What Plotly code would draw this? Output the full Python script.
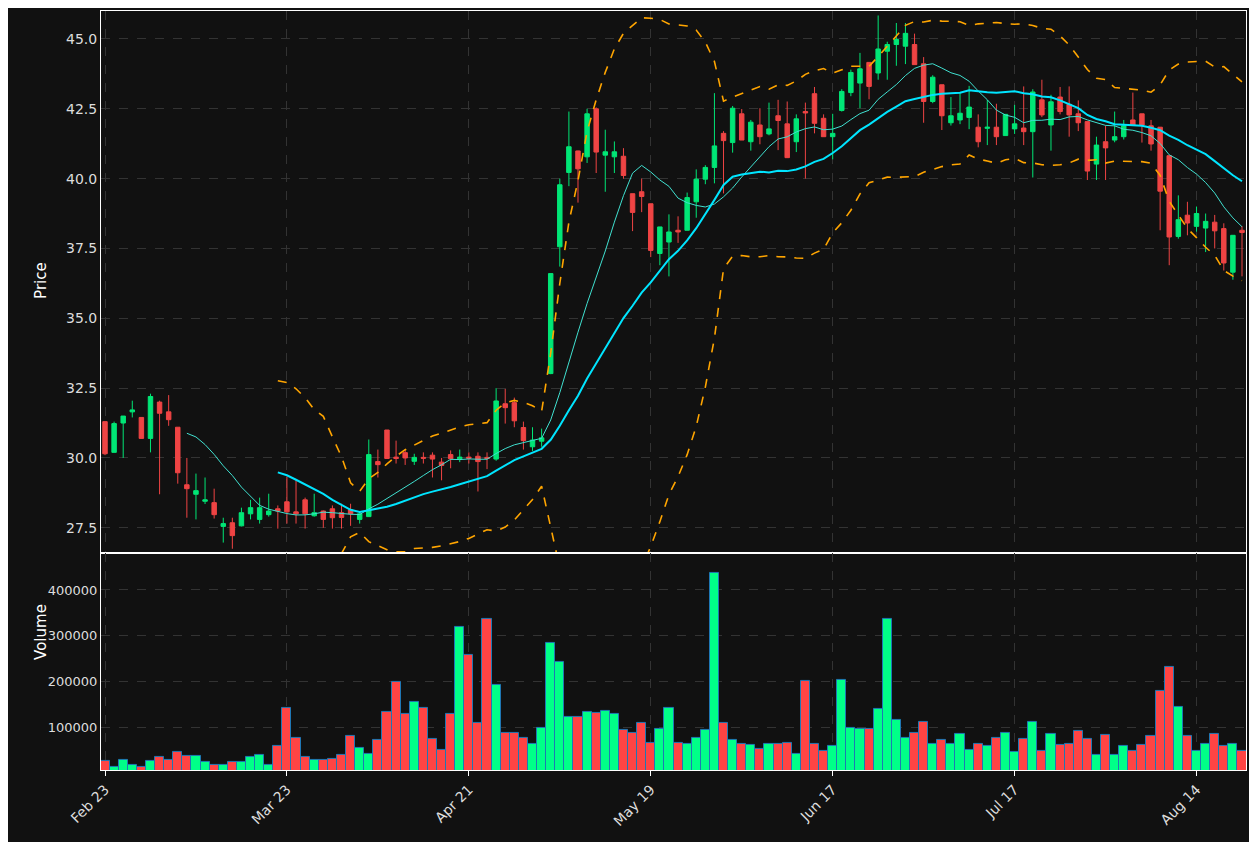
import plotly.graph_objects as go
from plotly.subplots import make_subplots
import pandas as pd

# OHLC, one entry per trading day (index 0..125)
opens = [31.3, 30.2, 31.25, 31.65, 31.45, 30.7, 32.0, 31.65, 31.1, 29.04,
         28.7, 28.45, 28.4, 27.55, 27.68, 27.57, 28.0, 27.8, 27.97, 28.18,
         28.43, 28.07, 28.5, 27.93, 28.1, 28.18, 28.04, 28.14, 27.8, 27.9,
         29.87, 31.0, 30.03, 30.19, 29.88, 30.02, 30.1, 29.85, 30.12, 29.97,
         30.03, 30.06, 30.02, 29.96, 31.94, 31.98, 31.09, 30.4, 30.6, 33.02,
         37.56, 40.22, 40.99, 40.78, 42.5, 40.84, 40.78, 40.8, 39.46, 39.53,
         39.1, 37.32, 37.73, 38.15, 38.15, 39.17, 39.98, 40.4, 41.62, 41.29,
         42.32, 41.32, 41.92, 41.6, 42.25, 41.96, 41.32, 42.4, 43.04, 42.16,
         41.5, 42.44, 43.08, 43.42, 44.16, 43.78, 44.56, 44.8, 44.74, 44.8,
         44.11, 42.76, 43.36, 42.0, 42.1, 42.19, 41.84, 41.8, 41.84, 41.54,
         41.78, 41.81, 41.68, 42.82, 41.92, 42.92, 42.66, 42.32, 42.04, 40.52,
         41.32, 41.38, 41.5, 42.1, 42.32, 41.89, 41.84, 40.82, 37.93, 38.69,
         38.29, 38.23, 38.44, 38.21, 36.65, 38.15]
highs = [31.3, 31.3, 31.5, 32.05, 31.45, 32.3, 32.05, 32.25, 31.1, 30.0,
         29.44, 29.3, 28.9, 27.86, 27.86, 28.22, 28.5, 28.58, 28.72, 28.3,
         29.33, 29.2, 28.58, 28.72, 28.12, 28.3, 28.36, 28.36, 28.1, 30.66,
         30.3, 31.0, 30.62, 30.3, 30.15, 30.2, 30.2, 30.0, 30.27, 30.3,
         30.2, 30.2, 30.2, 32.5, 32.47, 32.16, 31.3, 31.1, 31.05, 36.6,
         40.0, 42.4, 41.0, 42.5, 42.55, 41.75, 41.33, 41.09, 39.46, 40.0,
         39.1, 38.27, 38.72, 38.65, 39.5, 40.33, 40.48, 43.06, 41.7, 42.6,
         42.49, 42.1, 42.52, 42.72, 42.82, 42.76, 42.3, 42.72, 43.28, 42.3,
         42.32, 43.2, 43.9, 44.5, 44.16, 45.84, 44.9, 45.57, 45.57, 45.19,
         44.35, 43.7, 43.36, 42.92, 43.06, 43.32, 42.3, 42.82, 42.68, 42.3,
         42.64, 43.3, 43.2, 43.54, 43.0, 43.28, 43.3, 42.8, 42.04, 41.5,
         41.9, 42.4, 42.1, 43.08, 42.32, 42.1, 41.84, 40.82, 39.4, 39.17,
         39.0, 38.75, 38.7, 38.4, 37.97, 38.3]
lows = [30.1, 30.2, 30.0, 31.45, 30.7, 30.2, 28.7, 31.15, 29.08, 27.86,
        27.8, 28.35, 27.83, 26.97, 26.75, 27.55, 27.8, 27.65, 27.9, 27.47,
        27.65, 27.65, 27.47, 27.9, 27.5, 27.47, 27.47, 27.57, 27.65, 27.9,
        29.3, 29.98, 29.8, 29.75, 29.75, 29.8, 29.3, 29.2, 29.63, 29.85,
        29.8, 28.8, 29.6, 29.9, 31.23, 31.1, 30.3, 30.25, 30.4, 33.0,
        36.85, 39.73, 39.14, 40.56, 40.2, 39.53, 40.2, 40.0, 38.12, 38.8,
        37.19, 36.9, 36.5, 37.7, 38.15, 38.6, 39.8, 39.83, 39.47, 40.93,
        41.38, 41.0, 41.23, 41.55, 41.02, 40.75, 40.95, 40.0, 41.62, 41.5,
        40.69, 42.4, 42.95, 42.52, 42.84, 43.54, 43.54, 44.04, 44.1, 44.08,
        42.0, 42.7, 41.74, 41.9, 41.95, 41.77, 41.12, 41.2, 41.2, 41.54,
        41.6, 41.2, 40.04, 42.2, 41.0, 42.3, 41.5, 41.7, 39.95, 39.95,
        39.95, 41.3, 41.4, 41.9, 41.29, 41.0, 38.15, 36.9, 37.85, 37.97,
        38.1, 37.37, 37.5, 36.71, 36.38, 36.5]
closes = [30.15, 31.23, 31.5, 31.72, 30.7, 32.2, 31.6, 31.37, 29.47, 28.9,
          28.83, 28.5, 27.97, 27.65, 27.22, 28.04, 28.22, 28.22, 28.1, 28.1,
          28.07, 28.0, 28.0, 28.04, 27.8, 27.86, 27.87, 28.0, 28.0, 30.12,
          29.76, 29.98, 29.98, 30.0, 30.02, 29.99, 29.96, 29.73, 29.97, 30.03,
          29.99, 29.87, 29.98, 32.04, 31.8, 31.33, 30.62, 30.64, 30.72, 36.6,
          39.78, 41.14, 40.35, 42.32, 40.95, 40.96, 40.96, 40.11, 38.79, 39.36,
          37.43, 38.27, 38.09, 38.09, 39.32, 39.98, 40.4, 41.17, 41.36, 42.52,
          41.38, 42.02, 41.5, 41.78, 42.08, 40.75, 42.14, 42.35, 41.98, 41.5,
          41.62, 43.12, 43.8, 43.93, 43.3, 44.64, 44.8, 44.98, 45.2, 44.08,
          42.76, 43.63, 42.25, 42.25, 42.34, 42.56, 41.32, 41.84, 41.5, 42.3,
          41.96, 41.68, 43.1, 42.28, 42.75, 42.4, 42.28, 42.0, 40.27, 41.2,
          41.1, 41.5, 41.89, 41.92, 41.92, 41.24, 39.55, 37.91, 38.53, 38.41,
          38.75, 38.47, 38.13, 36.98, 37.97, 38.07]
volumes = [25000, 13000, 29000, 18000, 13000, 25000, 34000, 27000, 45000, 36000,
           36000, 23000, 18000, 18000, 23000, 23000, 34000, 38000, 18000, 58000,
           141000, 77000, 34000, 27000, 29000, 31000, 38000, 80000, 55000, 42000,
           71000, 132000, 198000, 128000, 156000, 141000, 75000, 51000, 128000, 320000,
           257000, 110000, 336000, 193000, 88000, 88000, 77000, 64000, 99000, 283000,
           242000, 123000, 123000, 134000, 130000, 136000, 128000, 93000, 88000, 108000,
           66000, 95000, 141000, 66000, 62000, 77000, 93000, 437000, 108000, 71000,
           64000, 60000, 53000, 64000, 62000, 66000, 42000, 200000, 64000, 47000,
           58000, 204000, 97000, 95000, 95000, 139000, 336000, 115000, 77000, 88000,
           112000, 64000, 71000, 64000, 86000, 49000, 64000, 58000, 77000, 88000,
           45000, 73000, 112000, 47000, 84000, 60000, 64000, 91000, 75000, 40000,
           82000, 38000, 58000, 47000, 60000, 80000, 180000, 232000, 145000, 80000,
           47000, 64000, 86000, 58000, 64000, 47000]
tick_idx = [0, 20, 40, 60, 80, 100, 120]
tick_labels = ["Feb 23", "Mar 23", "Apr 21", "May 19", "Jun 17", "Jul 17", "Aug 14"]

df = pd.DataFrame({"open": opens, "high": highs, "low": lows, "close": closes, "volume": volumes})
x = list(range(len(df)))

ma10 = df["close"].rolling(10).mean()
ma20 = df["close"].rolling(20).mean()
std20 = df["close"].rolling(20).std()
upper = ma20 + 2 * std20
lower = ma20 - 2 * std20

vol_colors = ["#00ff88" if c >= o else "#ff4444" for o, c in zip(df["open"], df["close"])]

fig = make_subplots(rows=2, cols=1, shared_xaxes=True, vertical_spacing=0.0,
                    row_heights=[0.714, 0.286])

fig.add_trace(go.Candlestick(
    x=x, open=df["open"], high=df["high"], low=df["low"], close=df["close"],
    increasing=dict(line=dict(color="#00e676", width=1), fillcolor="#00e676"),
    decreasing=dict(line=dict(color="#ef4444", width=1), fillcolor="#ef4444"),
    whiskerwidth=0, showlegend=False), row=1, col=1)

fig.add_trace(go.Scatter(x=x, y=ma10, mode="lines", line=dict(color="#40e0d0", width=1),
                         showlegend=False), row=1, col=1)
fig.add_trace(go.Scatter(x=x, y=ma20, mode="lines", line=dict(color="#00e5ff", width=2),
                         showlegend=False), row=1, col=1)
fig.add_trace(go.Scatter(x=x, y=upper, mode="lines", line=dict(color="#ffa500", width=1.6, dash="dash"),
                         showlegend=False), row=1, col=1)
fig.add_trace(go.Scatter(x=x, y=lower, mode="lines", line=dict(color="#ffa500", width=1.6, dash="dash"),
                         showlegend=False), row=1, col=1)

fig.add_trace(go.Bar(x=x, y=df["volume"], marker=dict(color=vol_colors, line=dict(color="#1f77b4", width=1)),
                     showlegend=False), row=2, col=1)

axis_style = dict(showgrid=True, gridcolor="#333333", griddash="dash", gridwidth=1,
                  showline=True, linecolor="white", linewidth=1, mirror=True,
                  zeroline=False, tickfont=dict(color="#dddddd", size=14))

fig.update_xaxes(**axis_style, range=[-0.44, 125.44], rangeslider_visible=False)
fig.update_xaxes(tickvals=tick_idx, ticktext=tick_labels, tickangle=-45, ticks="outside",
                 tickcolor="white", row=2, col=1)
fig.update_xaxes(showticklabels=False, row=1, col=1)
fig.update_yaxes(**axis_style)
fig.update_yaxes(range=[26.6, 46.0], dtick=2.5, tickformat=".1f", row=1, col=1)
fig.update_yaxes(range=[6000, 481000], tickvals=[100000, 200000, 300000, 400000],
                 tickformat="d", tickfont=dict(color="#dddddd", size=13), row=2, col=1)

# axis titles as annotations so both sit at the same horizontal position
fig.add_annotation(text="Price", x=-0.052, xref="paper", xanchor="center", y=0.645, yref="paper",
                   textangle=-90, showarrow=False, font=dict(color="white", size=15))
fig.add_annotation(text="Volume", x=-0.052, xref="paper", xanchor="center", y=0.143, yref="paper",
                   textangle=-90, showarrow=False, font=dict(color="white", size=15))

fig.update_layout(
    width=1257, height=842,
    paper_bgcolor="#111111", plot_bgcolor="#111111",
    margin=dict(l=93, r=19, t=3, b=80),
    bargap=0.0,
    font=dict(family="DejaVu Sans", color="white"),
)

fig.write_html("out.html")
